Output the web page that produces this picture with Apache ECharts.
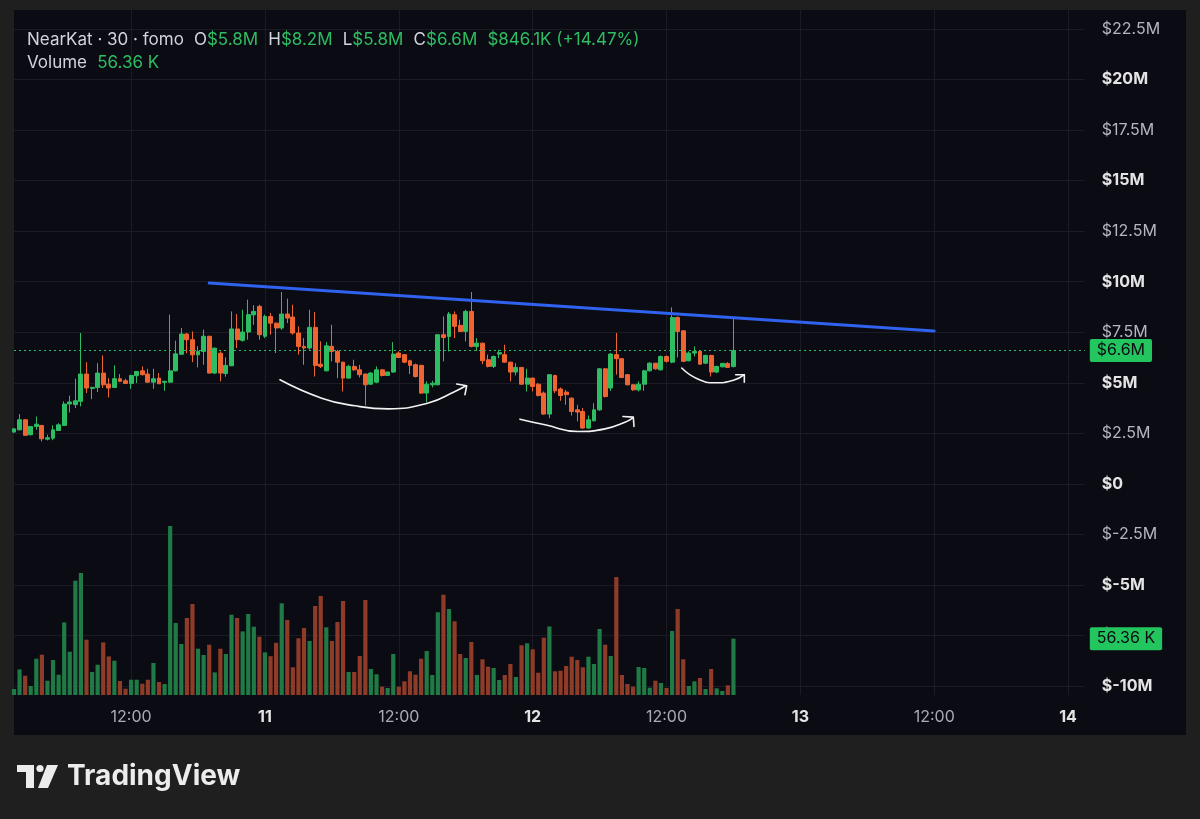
<!DOCTYPE html>
<html><head><meta charset="utf-8">
<script src="https://cdn.jsdelivr.net/npm/echarts@6/dist/echarts.min.js"></script>
<style>html,body{margin:0;padding:0;background:#1f1f1f}#c{width:1200px;height:819px}</style>
</head><body><div id="c"></div>
<script>
// 30-minute slots counted from day 10 00:00
const firstSlot = 3, lastSlot = 195;

const opens = [
2.56,2.67,3.17,2.43,2.84,2.89,2.21,2.26,2.64,2.89,
3.95,3.92,4.08,5.43,4.72,4.77,5.48,4.93,4.77,5.20,
5.10,4.97,5.35,5.59,5.43,5.03,5.23,5.02,5.03,5.59,
6.41,7.41,7.13,6.38,6.55,7.30,5.48,6.46,5.46,5.84,
7.66,7.10,7.51,8.36,8.78,7.30,8.28,7.95,7.71,8.40,
8.25,7.46,6.80,6.72,7.74,5.92,5.59,6.80,6.55,6.02,
5.23,5.81,5.64,5.43,4.93,5.03,5.64,5.36,5.53,6.47,
6.39,6.09,5.89,5.86,4.49,4.90,4.90,7.38,7.29,8.37,
7.84,7.54,8.53,6.80,6.96,6.14,5.81,6.42,6.39,6.02,
5.53,5.76,4.93,5.23,4.93,4.49,3.45,5.36,4.69,4.54,
4.24,3.66,3.58,2.76,3.12,3.66,5.69,4.74,6.39,6.19,
5.40,4.90,4.65,4.93,5.59,5.97,5.64,6.30,6.02,8.23,
7.57,6.09,6.47,6.55,5.97,6.35,5.53,5.79,5.95,5.80];
const closes = [
2.72,3.17,2.40,2.84,2.95,2.23,2.28,2.67,2.92,3.95,
4.05,4.11,5.43,4.74,4.77,5.48,4.90,4.74,5.20,5.07,
4.97,5.36,5.56,5.40,5.03,5.20,4.95,5.07,5.59,6.43,
7.41,7.13,6.38,6.55,7.30,5.48,6.71,5.48,5.86,7.66,
7.13,7.51,8.37,8.53,7.38,8.28,7.95,7.71,8.40,8.20,
7.46,6.80,6.72,7.74,5.86,5.81,6.83,6.55,6.02,5.23,
5.81,5.64,5.40,4.90,5.48,5.64,5.36,5.53,6.42,6.25,
6.02,5.86,5.31,4.49,4.93,4.98,7.38,7.24,8.40,7.79,
7.54,8.53,6.80,6.96,6.09,5.81,6.30,6.49,6.02,5.53,
5.76,4.93,5.23,4.82,4.37,3.45,5.40,4.60,4.37,4.41,
3.58,3.55,2.76,3.17,3.66,5.69,4.32,6.42,6.19,5.26,
4.90,4.65,4.93,5.59,5.97,5.69,6.30,6.06,8.23,7.54,
6.06,6.47,6.55,5.92,6.35,5.53,5.81,5.96,5.76,6.60];
const lows = [
2.53,2.65,2.38,2.40,2.67,2.10,2.15,2.16,2.62,2.87,
3.53,3.75,3.83,4.49,4.19,4.54,4.74,4.27,4.74,5.03,
4.94,4.70,4.99,5.36,5.00,4.70,4.94,4.60,5.00,5.56,
6.38,6.46,6.02,5.76,5.89,5.46,5.43,5.07,5.30,5.82,
6.71,7.03,7.13,7.87,7.13,7.21,7.38,6.47,7.62,7.95,
7.38,6.39,5.89,6.63,5.31,5.73,5.56,6.06,5.23,4.57,
5.20,5.59,5.26,3.88,4.90,4.98,5.31,5.34,5.50,6.22,
5.97,5.43,5.26,4.45,4.04,4.77,4.88,6.06,6.55,7.21,
7.51,7.05,6.75,6.58,5.92,5.76,5.73,6.22,6.00,5.07,
5.36,4.90,4.57,4.57,4.32,3.42,3.25,4.49,4.11,3.91,
3.38,3.09,2.72,2.72,3.09,3.61,4.27,4.60,5.40,5.23,
4.87,4.60,4.57,4.60,5.56,5.64,5.61,6.00,5.97,6.25,
6.02,6.06,6.30,5.89,5.92,5.31,5.48,5.76,5.74,5.76];
const highs = [
2.75,3.45,3.20,2.86,3.33,2.90,2.43,2.89,3.00,4.08,
4.36,5.20,7.46,6.02,4.80,5.97,6.35,5.23,5.86,5.43,
5.20,5.40,5.58,5.81,5.69,5.69,5.48,5.10,8.37,7.08,
7.71,7.46,7.54,6.81,7.63,7.32,6.75,6.55,6.25,8.53,
8.40,8.61,9.11,8.84,8.86,8.37,8.45,7.97,9.49,9.16,
8.86,7.79,7.21,8.61,8.50,7.05,7.01,7.87,6.63,6.04,
5.89,6.14,5.89,5.46,5.53,5.81,5.66,5.55,7.01,6.55,
6.42,6.14,5.95,5.89,5.07,5.10,7.40,8.28,8.50,8.53,
8.12,8.61,9.49,7.21,6.98,6.39,6.35,6.63,6.88,6.04,
5.97,5.78,5.69,5.25,4.98,4.57,5.43,5.40,4.77,4.65,
4.27,3.91,3.75,3.38,3.99,5.73,5.73,6.47,7.46,6.22,
5.43,4.93,5.07,5.64,6.02,5.98,6.35,6.35,8.73,8.28,
7.60,6.55,6.80,6.58,6.39,6.39,5.84,5.97,6.02,8.20];
// volume in thousands
const volumes = [
6,25.6,19.3,9,36.3,40.3,14.3,35,20.3,72.6,
43.3,114.3,122,55.3,23,30.3,52.6,38.6,34.3,14,
6.3,15.3,15.3,11.3,15.3,32,13,11,169,72,
51,77,91,46.3,40,50.3,22.6,46.3,41,80.3,
77,63.6,81,68.3,58.3,42.6,38.8,52.2,91.7,75,
27.7,56.7,67,54,89,99,67.7,54,73,94,
23,23,39,95,26,20.7,8.3,7,41,8.3,
13.7,23.7,20.3,36.3,44,20,82.7,100.3,86,73.7,
41,37,53,20,35.7,28.3,27,15,20,31,
18,49.7,51.7,45.7,22.3,57.3,68.5,23.7,24.3,29,
38.3,35,27.7,38.3,31,66,50.3,39,118,20,
11,8.3,28,27,7.3,14.3,12,7,64,86,
35.7,9,13.7,17,6,26,6.7,4,9.7,56.36];

const priceTicks = { min: -10, max: 22.5, step: 2.5 };
const lastPriceLabel = '$6.6M';
const lastVolumeLabel = '56.36 K';
const headerSymbol = 'NearKat · 30 · fomo';
const headerOHLC = [['O','$5.8M'],['H','$8.2M'],['L','$5.8M'],['C','$6.6M']];
const headerChange = '$846.1K (+14.47%)';

// annotations in (slot, price $M)
const trendLine = [[38, 9.93], [168, 7.56]];
const arc1 = [[50.69,5.15],[58.17,4.24],[64.14,3.86],[70.11,3.71],[77.28,4.00],[82.07,4.57],[84.04,4.85]];
const arc1Head = [[82.37,4.94],[84.17,4.85],[83.86,4.41]];
const arc2 = [[93.73,3.20],[98.21,2.92],[104.18,2.59],[108.97,2.72],[112.55,3.05],[114.04,3.28]];
const arc2Head = [[112.19,3.33],[114.04,3.30],[114.17,2.84]];
const arc3 = [[122.72,5.73],[125.5,5.20],[128.7,5.0],[132.0,5.12],[133.95,5.40]];
const arc3Head = [[132.4,5.40],[133.95,5.40],[133.95,5.03]];

const categories = [];
for (let k = firstSlot; k <= lastSlot; k++) {
  const d = 10 + Math.floor(k / 48);
  const m = (k % 48) * 30;
  categories.push(d + ' ' + String(Math.floor(m / 60)).padStart(2, '0') + ':' + String(m % 60).padStart(2, '0'));
}

const UP = '#2ebd62', DOWN = '#ef6532';
const VUP = '#1f7a46', VDOWN = '#8e3b27';
const GRID = '#1b1b26';
const FONT = 'Inter';

const candleData = opens.map((o, i) => [o, closes[i], lows[i], highs[i]]);
const volData = volumes.map((v, i) => ({ value: v, itemStyle: { color: closes[i] >= opens[i] ? VUP : VDOWN } }));

const headerText = '{w|' + headerSymbol + '}  ' +
  headerOHLC.map(p => '{w|' + p[0] + '}{g|' + p[1] + '}').join('  ') +
  '  {g|' + headerChange + '}\n{w|Volume}  {g|' + lastVolumeLabel + '}';

const chart = echarts.init(document.getElementById('c'), null, { renderer: 'canvas' });
const gridL = 14.0, gridR = 115.2;

const annot = (data, color, width, smooth) => ({
  type: 'line', xAxisIndex: 2, yAxisIndex: 0, data: data, smooth: smooth,
  symbol: 'none', silent: true, z: 5,
  lineStyle: { color: color, width: width, cap: 'round', join: 'round' }
});

const boxLabel = (txt) => ({ show: true, position: 'end', distance: 5, formatter: txt, backgroundColor: '#22c55e', color: '#0b0b13',
  fontSize: 16, fontFamily: FONT, padding: [4, 7, 3, 7], borderRadius: 2 });

chart.setOption({
  animation: false,
  backgroundColor: '#1f1f1f',
  textStyle: { fontFamily: FONT },
  graphic: [
    { type: 'rect', z: -100, shape: { x: 14, y: 10, width: 1172, height: 725 }, style: { fill: '#0b0b13' } },
    { type: 'polygon', z: 10, shape: { points: [[17,765],[34,765],[34,788],[26,788],[26,772],[17,772]] }, style: { fill: '#ececec' } },
    { type: 'circle', z: 10, shape: { cx: 40, cy: 768.5, r: 3.6 }, style: { fill: '#ececec' } },
    { type: 'polygon', z: 10, shape: { points: [[47,765],[58,765],[48,788],[38,788]] }, style: { fill: '#ececec' } }
  ],
  title: [
    { left: 27, top: 28, padding: 0, text: headerText,
      textStyle: { fontWeight: 'normal', rich: {
        w: { color: '#d1d4dc', fontSize: 17, fontWeight: 'normal', fontFamily: FONT, lineHeight: 23 },
        g: { color: '#2ebd62', fontSize: 17, fontWeight: 'normal', fontFamily: FONT, lineHeight: 23 } } } },
    { left: 67, top: 763, padding: 0, text: 'TradingView',
      textStyle: { color: '#ececec', fontSize: 28, fontWeight: 'bold', fontFamily: FONT } }
  ],
  grid: [
    { left: gridL, right: gridR, top: 29, bottom: 133 },
    { left: gridL, right: gridR, top: 10, bottom: 124 }
  ],
  xAxis: [
    { type: 'category', gridIndex: 0, data: categories, boundaryGap: false, show: false },
    { type: 'category', gridIndex: 1, data: categories, boundaryGap: false,
      axisLine: { show: false }, axisTick: { show: false },
      axisLabel: { interval: 0, margin: 14, fontSize: 16,
        formatter: (v) => { const t = v.split(' '); if (t[1] === '00:00') return '{b|' + t[0] + '}'; if (t[1] === '12:00') return '{n|12:00}'; return ''; },
        rich: { b: { color: '#e4e4e4', fontWeight: 'bold', fontSize: 16, fontFamily: FONT }, n: { color: '#a9abb2', fontSize: 16, fontFamily: FONT } } },
      splitLine: { show: true, interval: (i, v) => v.endsWith(' 00:00') || v.endsWith(' 12:00'), lineStyle: { color: GRID, width: 1 } } },
    { type: 'value', gridIndex: 0, min: firstSlot, max: lastSlot, show: false }
  ],
  yAxis: [
    { type: 'value', gridIndex: 0, position: 'right', min: priceTicks.min, max: priceTicks.max, interval: priceTicks.step,
      axisLine: { show: false }, axisTick: { show: false },
      splitLine: { lineStyle: { color: GRID, width: 1 } },
      axisLabel: { margin: 17, fontSize: 16,
        formatter: (v) => { const s = v === 0 ? '$0' : '$' + v + 'M'; return (Math.abs(v) % 5 === 0 ? '{b|' : '{n|') + s + '}'; },
        rich: { b: { color: '#e4e4e4', fontWeight: 'bold', fontSize: 16, fontFamily: FONT }, n: { color: '#b4b6bd', fontSize: 16, fontFamily: FONT } } } },
    { type: 'value', gridIndex: 1, min: 0, max: 685, show: false }
  ],
  series: [
    { type: 'bar', xAxisIndex: 1, yAxisIndex: 1, data: volData, barWidth: 4.2, z: 1, silent: true,
      markLine: { symbol: 'none', silent: true, data: [{ yAxis: volumes[volumes.length - 1] }],
        lineStyle: { color: 'rgba(0,0,0,0)', width: 0 }, label: boxLabel(lastVolumeLabel) } },
    { type: 'candlestick', xAxisIndex: 0, yAxisIndex: 0, data: candleData, barWidth: 4.4, z: 3, silent: true,
      itemStyle: { color: UP, color0: DOWN, borderColor: UP, borderColor0: DOWN, borderWidth: 1 },
      markLine: { symbol: 'none', silent: true, data: [{ yAxis: closes[closes.length - 1] }],
        lineStyle: { color: '#2ebd62', type: [2, 3], width: 1 }, label: boxLabel(lastPriceLabel) } },
    annot(trendLine, '#2f62ee', 3, false),
    annot(arc1, '#f2f2f2', 1.6, 0.5),
    annot(arc1Head, '#f2f2f2', 1.6, false),
    annot(arc2, '#f2f2f2', 1.6, 0.5),
    annot(arc2Head, '#f2f2f2', 1.6, false),
    annot(arc3, '#f2f2f2', 1.6, 0.5),
    annot(arc3Head, '#f2f2f2', 1.6, false)
  ]
});
</script></body></html>
